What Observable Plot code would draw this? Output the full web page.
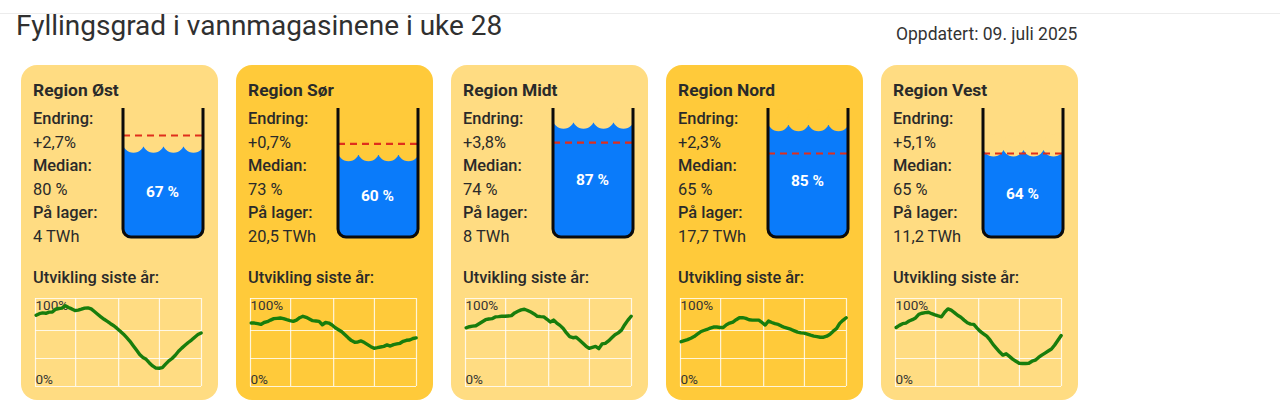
<!DOCTYPE html>
<html lang="no"><head><meta charset="utf-8">
<script src="https://cdn.jsdelivr.net/npm/d3@7"></script>
<script src="https://cdn.jsdelivr.net/npm/@observablehq/plot@0.6"></script>
<style>
html,body{margin:0;padding:0;background:#fff;width:1280px;height:415px;overflow:hidden;font-family:Roboto,sans-serif;color:#2a2a2a}
#rule{position:absolute;left:0;top:13px;width:1280px;height:1px;background:#ececec}
#title{position:absolute;left:16px;top:9px;font-size:28px;line-height:34px;font-weight:400;color:#303030;white-space:nowrap}
#updated{position:absolute;left:896px;top:24px;font-size:17.5px;line-height:20px;color:#333;white-space:nowrap}
.card{position:absolute;top:65px;width:197px;height:335px;border-radius:16px}
.card div.t{position:absolute;left:12px;white-space:nowrap;font-size:16.4px;line-height:20px}
.card div.b{font-weight:500}
.card div.h{font-size:17.4px;font-weight:700}
.card svg{position:absolute;background:transparent;max-width:none}
</style></head><body>
<div id="rule"></div>
<div id="title">Fyllingsgrad i vannmagasinene i uke 28</div>
<div id="updated">Oppdatert: 09. juli 2025</div>
<div id="cards"></div>
<script>
const regions = ["Region Øst","Region Sør","Region Midt","Region Nord","Region Vest"];
const endring = ["+2,7%","+0,7%","+3,8%","+2,3%","+5,1%"];
const median = [80,73,74,65,65];
const fylling = [67,60,87,85,64];
const lager = ["4 TWh","20,5 TWh","8 TWh","17,7 TWh","11,2 TWh"];
const cardColors = ["#ffdc82","#ffca3a","#ffdc82","#ffca3a","#ffdc82"];

const ost = [89,91,92,91.5,93,93,96.6,97.5,98,101,98.7,97,95,95.4,96.6,98,98.3,97,93.7,90.3,87,84,81.4,78.5,76,72.6,69,65.4,61,56.5,51,45.6,40,36.3,34,29.5,25.7,23,22.8,23.6,28,32,35,39,44,48,51.5,55,58,61.6,65,67];
const sor = [79.3,79.3,78.5,77.6,80,81,83,84.8,85.2,85.6,84.8,83.5,82.3,81.4,83,86,87.8,86.5,84.4,82.3,81.9,81.4,77.2,80,79.3,76.8,73.4,71,68.4,64.6,60.8,57.4,55.3,55.7,57,54.9,52.3,49.8,47.7,48.5,49.4,50.2,52,50.6,52.3,53.2,54,56.5,57.8,58.2,60,60.8];
const midt = [73.4,74.7,75.5,76,78.5,81,83.5,84.4,84.8,87,87.3,87.8,87.8,88.2,88.6,92,94,95.8,96.6,95,93,90.7,87.8,87.3,87,84,80.6,83,79.3,76.4,72.6,67,62.4,61,61.6,58,54.4,50.6,47.7,49,50.2,47.3,53.2,54,57,60.8,64.6,67,70.5,77.2,83,87.8];
const nord = [56,57.4,58.6,60.3,62.4,65.4,68.4,70,71.3,73,74.3,74.3,73.8,73.8,77.2,79.3,80.6,83.5,86,86,85.2,83.5,83,83,83,80,76.8,81.9,80,78.5,77.6,75.5,73.8,72.6,71.3,69.6,67.9,67,66.7,65.4,64.1,62.9,62.4,61.6,61.6,62.9,65.4,69.2,72.2,78.9,82.7,86];
const vest = [73.8,76.4,78.5,79.3,81.9,83.5,85.7,90.3,91.6,92.4,92.8,91,89.5,88.2,87,92.8,97,95.4,92.4,89,86.5,83,79.7,78,77.6,73,68.8,65.8,62.9,58.2,52.3,47.7,43,39.2,41,37.6,34.2,31.6,29,28.7,28.7,29,31.6,32.9,36.3,39.2,41.8,44.3,46.8,51.9,57.8,63.7];
const series = [ost,sor,midt,nord,vest];
const gridWeeks = [-0.2,12.2,25.5,38.1,51.1];
const gridPct = [0,35,70,110];
const waves = [0.125,0.375,0.625,0.875];

const root = document.getElementById("cards");
regions.forEach((name,i)=>{
  const card = document.createElement("div");
  card.className = "card";
  card.style.left = (21+215*i)+"px";
  card.style.background = cardColors[i];
  const rows = [
    ["t h",15,name],["t b",44,"Endring:"],["t",68,endring[i]],["t b",91,"Median:"],
    ["t",115,median[i]+" %"],["t b",138,"På lager:"],["t",162,lager[i]],["t b",203,"Utvikling siste år:"]
  ];
  rows.forEach(([c,top,txt])=>{
    const d = document.createElement("div");
    d.className = c; d.style.top = top+"px"; d.textContent = txt; card.append(d);
  });
  const lvl = fylling[i], top = lvl+3.3;
  const tank = Plot.plot({
    width:90,height:132,marginTop:0,marginRight:0,marginBottom:0,marginLeft:0,
    x:{domain:[0,1],range:[5,85],axis:null},
    y:{domain:[-5,102.5],range:[129,0],axis:null},
    marks:[
      Plot.rect([lvl],{x1:0,x2:1,y1:-5,y2:top,fill:"#0a7bfa",rx:8}),
      Plot.rect([lvl],{x1:0,x2:1,y1:5,y2:top,fill:"#0a7bfa"}),
      Plot.dot(waves,{x:d=>d,y:()=>lvl,r:10.9,dy:-9.2,fill:cardColors[i],stroke:null}),
      Plot.ruleY([median[i]],{x1:0,x2:1,stroke:"#df2f1c",strokeWidth:2.2,strokeDasharray:"7,5"}),
      Plot.rect([lvl],{x1:0,x2:1,y1:-5,y2:130,fill:"none",stroke:"#0b0b0b",strokeWidth:3,rx:8,clip:true}),
      Plot.text([lvl+"\u00a0%"],{x:0.5,y:(top-5)/2,dx:-1,text:d=>d,fill:"#fff",fontSize:15.5,fontWeight:700,fontFamily:"Roboto"})
    ]
  });
  tank.style.left="97px"; tank.style.top="43px";
  card.append(tank);
  const values = series[i].map((v,w)=>({w,v}));
  const spark = Plot.plot({
    width:171,height:92,marginTop:0,marginRight:0,marginBottom:0,marginLeft:0,
    x:{domain:[-0.2,51.1],range:[3,169],axis:null},
    y:{domain:[0,110],range:[90,2],axis:null},
    marks:[
      Plot.ruleX(gridWeeks,{y1:0,y2:110,stroke:"#fff",strokeOpacity:0.8,strokeWidth:1.2}),
      Plot.ruleY(gridPct,{x1:-0.2,x2:51.1,stroke:"#fff",strokeOpacity:0.8,strokeWidth:1.2}),
      Plot.text(["100%"],{x:-0.2,y:100,dx:0,dy:-1,text:d=>d,textAnchor:"start",fontSize:13.5,fill:"#333",fontFamily:"Roboto"}),
      Plot.text(["0%"],{x:-0.2,y:0,dx:0,dy:-7,text:d=>d,textAnchor:"start",fontSize:13.5,fill:"#333",fontFamily:"Roboto"}),
      Plot.line(values,{x:"w",y:"v",stroke:"#187d0c",strokeWidth:3.4,curve:"linear"})
    ]
  });
  spark.style.left="11px"; spark.style.top="231px";
  card.append(spark);
  root.append(card);
});
</script>
</body></html>
